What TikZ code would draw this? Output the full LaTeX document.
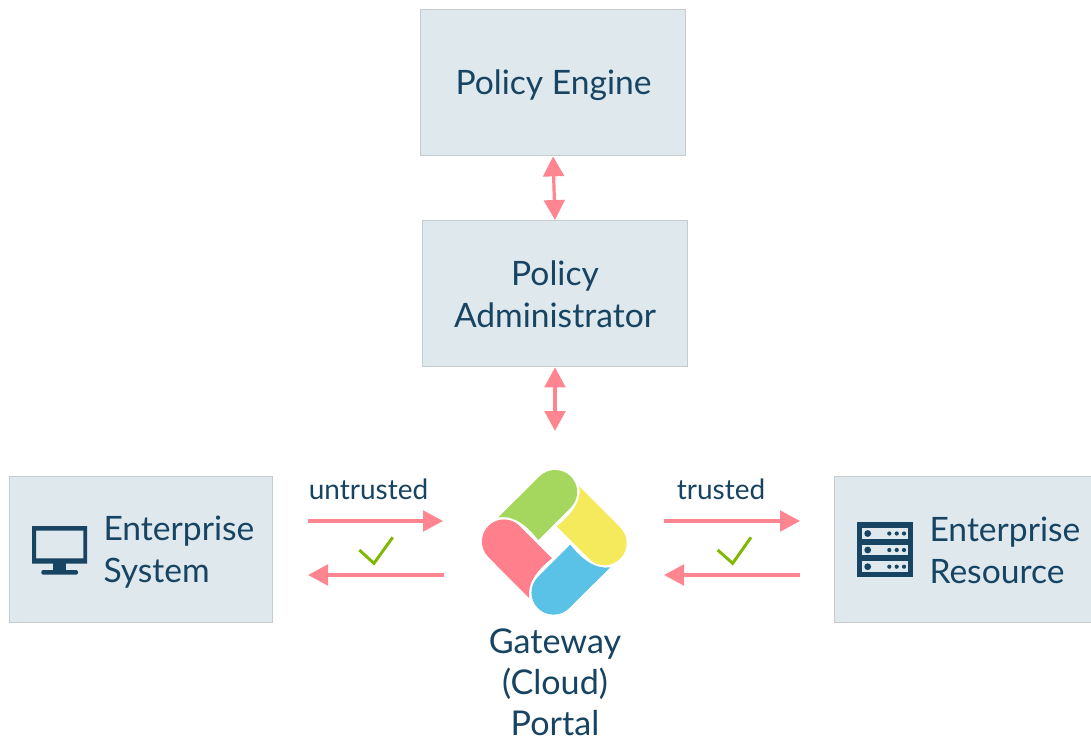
\documentclass[tikz,border=0pt]{standalone}
\usepackage{fontspec}
\setmainfont{Lato}
\usetikzlibrary{arrows.meta}

\definecolor{boxfill}{HTML}{DEE8ED}
\definecolor{boxline}{HTML}{C3CCD1}
\definecolor{inkblue}{HTML}{174462}
\definecolor{flowpink}{HTML}{FF8591}
\definecolor{tickgreen}{HTML}{7FB800}
\definecolor{pillgreen}{HTML}{A5D75F}
\definecolor{pillyellow}{HTML}{F5E95C}
\definecolor{pillblue}{HTML}{5BC2E7}
\definecolor{pillred}{HTML}{FF7F8C}

\tikzset{every picture/.style={line width=0.75pt},
  bigbox/.style={draw=boxline,fill=boxfill,minimum width=198.5pt,minimum height=109.75pt,inner sep=0pt},
  boxtext/.style={text=inkblue,font=\fontsize{25.2}{31.5}\selectfont,align=center,inner sep=0pt},
  sidetext/.style={boxtext,align=left,anchor=west},
  flowtext/.style={text=inkblue,font=\fontsize{21}{25}\selectfont,inner sep=0pt},
  flow/.style={draw=flowpink,line width=2.4pt,-{Triangle[length=15pt,width=15.5pt]}},
  bothflow/.style={flow,{Triangle[length=15pt,width=15.5pt]}-{Triangle[length=15pt,width=15.5pt]}},
  tick/.style={draw=tickgreen,line width=2.2pt},
  icon/.style={fill=inkblue,draw=none}
}

\newcommand{\pillshape}{(-56,-25) -- (-14.8,-65.9) .. controls (-6.2,-74.5) and (7.8,-74.5) .. (16.4,-65.9) .. controls (25,-57.3) and (25,-43.3) .. (16.4,-34.7) -- (-16,-2.3) .. controls (-27.7,-17.3) and (-41,-27.3) .. (-56,-25) -- cycle}

\begin{document}
\begin{tikzpicture}[x=0.75pt,y=0.75pt,yscale=-1,xscale=1]
\useasboundingbox (0,0) rectangle (1091,738);

% Boxes
\node [bigbox] (engine) at (553,82.7) {};
\node [bigbox] (admin) at (555,293.7) {};
\node [bigbox,minimum width=197.5pt] (system) at (141,549.2) {};
\node [bigbox,minimum width=194pt] (resource) at (963.8,549.2) {};

% Text Node
\node [boxtext] (enginetext) at (553.5,85) {Policy Engine};
\node [boxtext] (admintext) at (555,294) {Policy\\Administrator};
\node [sidetext] (systemtext) at (103,552) {Enterprise\\System};
\node [sidetext] (resourcetext) at (929,550) {Enterprise\\Resource};
\node [boxtext,anchor=south,font=\fontsize{25.6}{30.75}\selectfont] (portaltext) at (555,736) {Gateway\\(Cloud)\\Portal};
\node [flowtext] (untrusted) at (368.5,489.5) {untrusted};
\node [flowtext] (trusted) at (721,489.5) {trusted};

% Gateway logo
\begin{scope}[shift={(554.3,542.3)}]
\fill [pillgreen] \pillshape;
\fill [pillyellow,rotate=90] \pillshape;
\fill [pillblue,rotate=180] \pillshape;
\fill [pillred,rotate=270] \pillshape;
\end{scope}

% Free ends of the arrows
\coordinate (portaltop) at (555,431);
\coordinate (untrustedA) at (308,521);
\coordinate (untrustedB) at (443,521);
\coordinate (untrustedC) at (444,575);
\coordinate (untrustedD) at (308,575);
\coordinate (trustedA) at (664,521);
\coordinate (trustedB) at (800,521);
\coordinate (trustedC) at (800,575);
\coordinate (trustedD) at (664,575);

% Arrows
\draw [bothflow] (engine.south) -- (admin.north);
\draw [bothflow] (admin.south) -- (portaltop);
\draw [flow] (untrustedA) -- (untrustedB);
\draw [flow] (untrustedC) -- (untrustedD);
\draw [flow] (trustedA) -- (trustedB);
\draw [flow] (trustedC) -- (trustedD);

% Ticks
\draw [tick] (359.3,550) -- (374,563.3) -- (392.7,537.3);
\draw [tick] (717.7,550) -- (732.7,563.3) -- (751,537.3);

% Monitor icon
\path [icon,even odd rule] (32,526) rectangle (87,563.5) (36,530.7) rectangle (83.3,558.3);
\path [icon] (53.3,563) rectangle (66,570.5);
\path [icon,rounded corners=1.5pt] (41.3,570) rectangle (78,574.7);

% Server icon
\path [icon] (857.3,521.7) rectangle (912.7,576.7);
\foreach \rowy in {533.5,550,566.7}{
  \fill [boxfill] (862,\rowy-5.3) rectangle (908.3,\rowy+5.3);
  \fill [inkblue] (867.7,\rowy) circle [radius=3.4];
  \foreach \dotx in {889.3,896.7,904}
    \fill [inkblue] (\dotx,\rowy) circle [radius=2.1];
}

\end{tikzpicture}
\end{document}
